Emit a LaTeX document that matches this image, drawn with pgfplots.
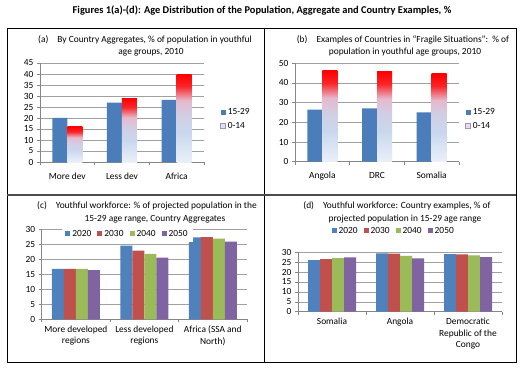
\documentclass[border=0pt]{standalone}
\usepackage{pgfplots}
\pgfplotsset{compat=1.18}
\usepackage{fontspec}
\setmainfont{Carlito}
\definecolor{cblue}{HTML}{4F81BD}
\definecolor{cred}{HTML}{C0504D}
\definecolor{cgreen}{HTML}{9BBB59}
\definecolor{cpurple}{HTML}{8064A2}
\definecolor{abar}{HTML}{4A7DBA}
\definecolor{gridc}{HTML}{A0A0A0}
\definecolor{axc}{HTML}{868686}
\definecolor{lav}{HTML}{E2DEEE}
\definecolor{lightb}{HTML}{EAF0F9}
\definecolor{blueb}{HTML}{C9D7EE}
\definecolor{pinkc}{HTML}{E6B8CC}
\definecolor{redc}{HTML}{FF0000}
\pgfdeclareverticalshading{redblue}{100bp}{color(0bp)=(lightb); color(25bp)=(lightb); color(42bp)=(blueb); color(52bp)=(blueb!70!pinkc); color(60bp)=(pinkc); color(68bp)=(redc!80!pinkc); color(75bp)=(redc); color(100bp)=(redc)}
\newcommand{\fs}{\fontsize{9.4}{11.4}\selectfont}
\pgfplotsset{
  panel/.style={
    scale only axis, anchor=south west,
    axis x line*=bottom, axis y line*=left,
    axis line style={-, axc, line width=0.6pt},
    tick style={axc, line width=0.6pt},
    tick align=outside, major tick length=3pt,
    ymajorgrids, grid style={gridc, line width=0.5pt},
    ymin=0,
    xmin=-0.5, xmax=2.5,
    xtick={-0.5,0.5,1.5,2.5}, xticklabels={},
    extra x ticks={0,1,2},
    extra x tick style={grid=none, major tick length=0pt},
    ticklabel style={font=\fs},
    xticklabel style={align=center},
    /pgf/number format/assume math mode=true,
    legend style={draw=none, fill=none, font=\fs},
    legend cell align=left,
  },
  sq/.style={legend image code/.code={\fill[##1] (0pt,-2.5pt) rectangle (5pt,2.5pt);}},
  grad/.style={ybar, draw=none, shade, shading=redblue, bar width=15pt, bar shift=7.5pt,
    legend image code/.code={\draw[top color=lav, bottom color=lav, middle color=lav, draw=cpurple!70, line width=0.5pt] (0pt,-2.5pt) rectangle (5pt,2.5pt);}},
}
\begin{document}
\begin{tikzpicture}
\useasboundingbox (0pt,0pt) rectangle (523pt,-368pt);
\fill[white] (0pt,0pt) rectangle (523pt,-368pt);
% frame
\draw[black, line width=0.8pt] (7pt,-28pt) rectangle (516pt,-362pt);
\draw[black, line width=0.8pt] (264pt,-28pt) -- (264pt,-362pt);
\draw[black!70, line width=1.2pt] (7pt,-195pt) -- (516pt,-195pt);
% main title
\node[font=\bfseries\fontsize{10.4}{12}\selectfont, anchor=mid] at (262pt,-11pt) {Figures 1(a)-(d): Age Distribution of the Population, Aggregate and Country Examples, \%};
% panel titles
\node[font=\fs, anchor=mid] at (145pt,-40pt) {(a)\hspace{9pt}By Country Aggregates, \% of population in youthful};
\node[font=\fs, anchor=mid] at (151pt,-52pt) {age groups, 2010};
\node[font=\fs, anchor=mid] at (403pt,-40pt) {(b)\hspace{9pt}Examples of Countries in “Fragile Situations”:~~\% of};
\node[font=\fs, anchor=mid] at (405pt,-52pt) {population in youthful age groups, 2010};
\node[font=\fs, anchor=mid] at (147pt,-206pt) {(c)\hspace{9pt}Youthful workforce: \% of projected population in the};
\node[font=\fs, anchor=mid] at (155pt,-219pt) {15-29 age range, Country Aggregates};
\node[font=\fs, anchor=mid] at (397pt,-206pt) {(d)\hspace{9pt}Youthful workforce: Country examples, \% of};
\node[font=\fs, anchor=mid] at (405pt,-219pt) {projected population in 15-29 age range};

% (a)
\begin{axis}[panel, at={(40pt,-162pt)}, width=164pt, height=99pt,
  ymax=45, ytick={0,5,...,45},
  extra x tick labels={More dev, Less dev, Africa},
  xticklabel style={yshift=-7pt},
  legend style={at={(1.08,0.434)}, anchor=west, row sep=2pt}]
\addplot[ybar, bar width=15pt, bar shift=-7.5pt, fill=abar, draw=none, sq]
  coordinates {(0,20.1) (1,27.0) (2,28.2)};
\addlegendentry{15-29}
\addplot[grad] coordinates {(0,16.0)};
\addlegendentry{0-14}
\addplot[grad, forget plot] coordinates {(1,29.0)};
\addplot[grad, forget plot] coordinates {(2,40.0)};
\end{axis}

% (b)
\begin{axis}[panel, at={(295pt,-161.7pt)}, width=164pt, height=98.5pt,
  ymax=50, ytick={0,10,...,50},
  extra x tick labels={Angola, DRC, Somalia},
  xticklabel style={yshift=-7pt},
  legend style={at={(1.02,0.433)}, anchor=west, row sep=2pt}]
\addplot[ybar, bar width=15pt, bar shift=-7.5pt, fill=abar, draw=none, sq]
  coordinates {(0,26.4) (1,27.1) (2,25.0)};
\addlegendentry{15-29}
\addplot[grad] coordinates {(0,46.3)};
\addlegendentry{0-14}
\addplot[grad, forget plot] coordinates {(1,45.8)};
\addplot[grad, forget plot] coordinates {(2,44.6)};
\end{axis}

% (c)
\begin{axis}[panel, at={(41.7pt,-319.3pt)}, width=205.3pt, height=90pt,
  ymax=30, ytick={0,5,...,30},
  extra x tick labels={{More developed\\regions},{Less developed\\regions},{Africa (SSA and\\North)}},
  xticklabel style={yshift=-3pt},
  legend columns=4,
  legend style={at={(0.418,0.948)}, anchor=center, fill=white, /tikz/every even column/.append style={column sep=4pt}}]
\addplot[ybar, bar width=12pt, bar shift=-18pt, fill=cblue, draw=none, sq]
  coordinates {(0,16.8) (1,24.6) (2,27.3)};
\addlegendentry{2020}
\addplot[ybar, bar width=12pt, bar shift=-6pt, fill=cred, draw=none, sq]
  coordinates {(0,16.8) (1,22.9) (2,27.4)};
\addlegendentry{2030}
\addplot[ybar, bar width=12pt, bar shift=6pt, fill=cgreen, draw=none, sq]
  coordinates {(0,16.8) (1,21.8) (2,26.9)};
\addlegendentry{2040}
\addplot[ybar, bar width=12pt, bar shift=18pt, fill=cpurple, draw=none, sq]
  coordinates {(0,16.4) (1,20.6) (2,25.9)};
\addlegendentry{2050}
\end{axis}

% (d)
\begin{axis}[panel, at={(298pt,-311.7pt)}, width=204pt, height=59.4pt,
  ymax=30, ytick={0,5,...,30},
  extra x tick labels={Somalia, Angola, {Democratic\\Republic of the\\Congo}},
  xticklabel style={yshift=-3pt, anchor=north},
  legend columns=4,
  legend style={at={(0.469,1.36)}, anchor=center, /tikz/every even column/.append style={column sep=4pt}}]
\addplot[ybar, bar width=12pt, bar shift=-18pt, fill=cblue, draw=none, sq]
  coordinates {(0,26.0) (1,29.4) (2,29.1)};
\addlegendentry{2020}
\addplot[ybar, bar width=12pt, bar shift=-6pt, fill=cred, draw=none, sq]
  coordinates {(0,26.5) (1,29.3) (2,29.0)};
\addlegendentry{2030}
\addplot[ybar, bar width=12pt, bar shift=6pt, fill=cgreen, draw=none, sq]
  coordinates {(0,27.1) (1,28.2) (2,28.5)};
\addlegendentry{2040}
\addplot[ybar, bar width=12pt, bar shift=18pt, fill=cpurple, draw=none, sq]
  coordinates {(0,27.5) (1,26.9) (2,27.6)};
\addlegendentry{2050}
\end{axis}
\end{tikzpicture}
\end{document}
